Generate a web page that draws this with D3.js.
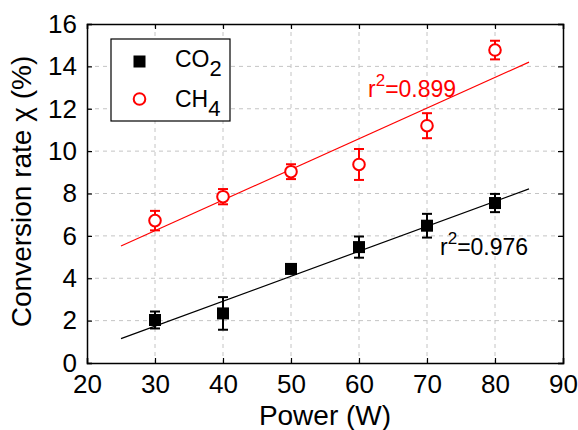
<!DOCTYPE html>
<html><head><meta charset="utf-8">
<script src="https://cdn.jsdelivr.net/npm/d3@7"></script>
<style>body{margin:0;background:#fff}svg{display:block;font-family:Arial,"Liberation Sans",sans-serif}</style>
</head><body><svg id="c" width="578" height="430"></svg>
<script>
const power = [30, 40, 50, 60, 70, 80];
const co2 = [2.03, 2.34, 4.44, 5.47, 6.48, 7.55];
const co2Err = [0.4, 0.77, 0.2, 0.5, 0.56, 0.43];
const ch4 = [6.72, 7.85, 9.03, 9.37, 11.2, 14.77];
const ch4Err = [0.46, 0.36, 0.35, 0.73, 0.59, 0.44];
const fitX = [25, 85];
const co2Fit = [1.15, 8.22];
const ch4Fit = [5.52, 14.2];
const xTicks = [20, 30, 40, 50, 60, 70, 80, 90];
const yTicks = [0, 2, 4, 6, 8, 10, 12, 14, 16];

const svg = d3.select('#c');
const L = 87, R = 563, T = 24, B = 363;
const x = d3.scaleLinear().domain([20, 90]).range([L, R]);
const y = d3.scaleLinear().domain([0, 16]).range([B, T]);

// grid
const g = svg.append('g');
g.selectAll('.vg').data(xTicks.slice(1, -1)).join('line')
  .attr('x1', d => x(d)).attr('x2', d => x(d)).attr('y1', T).attr('y2', B)
  .attr('stroke', '#c4c4c4').attr('stroke-width', 1).attr('stroke-dasharray', '4,4');
g.selectAll('.hg').data(yTicks.slice(1, -1)).join('line')
  .attr('y1', d => y(d)).attr('y2', d => y(d)).attr('x1', L).attr('x2', R)
  .attr('stroke', '#c4c4c4').attr('stroke-width', 1).attr('stroke-dasharray', '4,4');

// axes
const fmt = d3.format('d');
svg.append('g').attr('transform', `translate(0,${B})`)
  .call(d3.axisBottom(x).tickValues(xTicks).tickSize(-5).tickPadding(12).tickFormat(fmt));
svg.append('g').attr('transform', `translate(0,${T})`)
  .call(d3.axisTop(x).tickValues(xTicks).tickSize(-5).tickFormat(''));
svg.append('g').attr('transform', `translate(${L},0)`)
  .call(d3.axisLeft(y).tickValues(yTicks).tickSize(-5).tickPadding(10).tickFormat(fmt));
svg.append('g').attr('transform', `translate(${R},0)`)
  .call(d3.axisRight(y).tickValues(yTicks).tickSize(-5).tickFormat(''));
svg.selectAll('.domain').attr('stroke', '#000').attr('stroke-width', 1.5);
svg.selectAll('.tick line').attr('stroke', '#000').attr('stroke-width', 1.2);
svg.selectAll('.tick text').attr('font-size', 26).attr('fill', '#000')
  .attr('font-family', 'Arial, "Liberation Sans", sans-serif');

// fit lines
const line = d3.line().x(d => x(d[0])).y(d => y(d[1]));
svg.append('path').attr('d', line(fitX.map((v, i) => [v, ch4Fit[i]])))
  .attr('stroke', '#ff0000').attr('stroke-width', 1.2).attr('fill', 'none');
svg.append('path').attr('d', line(fitX.map((v, i) => [v, co2Fit[i]])))
  .attr('stroke', '#000').attr('stroke-width', 1.2).attr('fill', 'none');

function errBars(vals, errs, color) {
  const eg = svg.append('g').attr('stroke', color).attr('stroke-width', 2);
  power.forEach((p, i) => {
    const cx = x(p), t = y(vals[i] + errs[i]), b = y(vals[i] - errs[i]);
    eg.append('line').attr('x1', cx).attr('x2', cx).attr('y1', t).attr('y2', b);
    eg.append('line').attr('x1', cx - 5).attr('x2', cx + 5).attr('y1', t).attr('y2', t);
    eg.append('line').attr('x1', cx - 5).attr('x2', cx + 5).attr('y1', b).attr('y2', b);
  });
}
errBars(ch4, ch4Err, '#ff0000');
errBars(co2, co2Err, '#000');

svg.append('g').selectAll('circle').data(power).join('circle')
  .attr('cx', d => x(d)).attr('cy', (d, i) => y(ch4[i])).attr('r', 5.8)
  .attr('fill', '#fff').attr('stroke', '#ff0000').attr('stroke-width', 2);
svg.append('g').selectAll('rect').data(power).join('rect')
  .attr('x', d => x(d) - 6).attr('y', (d, i) => y(co2[i]) - 6).attr('width', 12).attr('height', 12)
  .attr('fill', '#000');

// annotations
function r2(xp, yp, color, txt) {
  const t = svg.append('text').attr('x', xp).attr('y', yp).attr('fill', color).attr('font-size', 23);
  t.append('tspan').text('r');
  t.append('tspan').attr('dy', -11).attr('font-size', 17).text('2');
  t.append('tspan').attr('dy', 11).text(txt);
}
r2(368, 97, '#ff0000', '=0.899');
r2(440, 255, '#000', '=0.976');

// legend
svg.append('rect').attr('x', 111).attr('y', 39).attr('width', 119).attr('height', 82)
  .attr('fill', '#fff').attr('stroke', '#000').attr('stroke-width', 1.2);
svg.append('rect').attr('x', 133.5).attr('y', 55.5).attr('width', 12).attr('height', 12).attr('fill', '#000');
svg.append('circle').attr('cx', 139.5).attr('cy', 99).attr('r', 5.8).attr('fill', '#fff')
  .attr('stroke', '#ff0000').attr('stroke-width', 2);
const l1 = svg.append('text').attr('x', 175).attr('y', 67).attr('font-size', 23);
l1.append('tspan').text('CO');
l1.append('tspan').attr('dy', 9).attr('font-size', 22).text('2');
const l2 = svg.append('text').attr('x', 175).attr('y', 107).attr('font-size', 23);
l2.append('tspan').text('CH');
l2.append('tspan').attr('dy', 9).attr('font-size', 22).text('4');

// axis titles
svg.append('text').attr('x', (L + R) / 2).attr('y', 425).attr('text-anchor', 'middle')
  .attr('font-size', 28).text('Power (W)');
svg.append('text').attr('transform', `translate(31,${(T + B) / 2 - 2}) rotate(-90)`)
  .attr('text-anchor', 'middle').attr('font-size', 28).text('Conversion rate χ (%)');
</script></body></html>
